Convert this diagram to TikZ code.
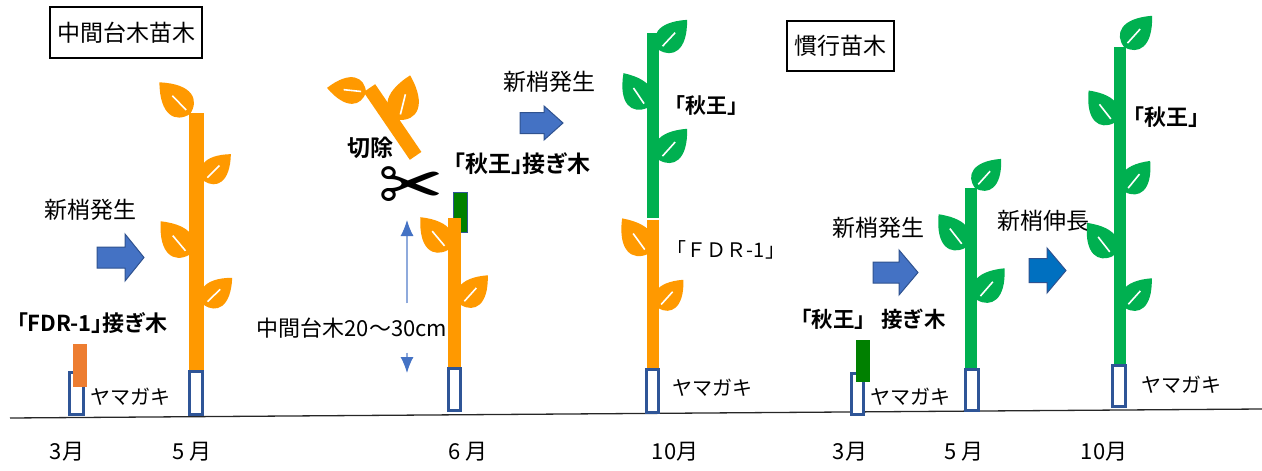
\documentclass[tikz,border=0pt]{standalone}
\usepackage{fontspec}
\setmainfont{Noto Sans CJK JP}[BoldFont={Noto Sans CJK JP Bold}]
\newfontfamily\jptight{Noto Sans CJK JP}[RawFeature=+palt, BoldFont={Noto Sans CJK JP Bold}]
\newfontfamily\symfont{DejaVu Sans}
\usepackage{tikz}
\usetikzlibrary{arrows.meta}

\definecolor{stemorange}{HTML}{FF9900}
\definecolor{scionorange}{HTML}{ED7D31}
\definecolor{stemgreen}{HTML}{00B050}
\definecolor{sciongreen}{HTML}{008000}
\definecolor{potblue}{HTML}{2F5597}
\definecolor{arrowfill}{HTML}{4472C4}
\definecolor{arrowline}{HTML}{2F528F}
\definecolor{arrowdeep}{HTML}{0070C0}
\definecolor{spanline}{HTML}{8FAADC}

% one leaf, base at the origin, tip along +x
\tikzset{
  leaf/.pic={
    \fill (0,0) .. controls (3,15) and (18,21) .. (40,0) .. controls (18,-21) and (3,-15) .. (0,0);
    \draw[white, line width=1.6pt] (5,0) -- (23,0);
  },
}

% block arrow: [colour]{left x}{centre y}{length}{head half}{body half}
\newcommand{\growarrow}[6][arrowfill]{%
  \filldraw[fill=#1, draw=arrowline, line width=1pt]
    (#2,#3-#6) -- (#2+#4-19,#3-#6) -- (#2+#4-19,#3-#5) -- (#2+#4,#3)
    -- (#2+#4-19,#3+#5) -- (#2+#4-19,#3+#6) -- (#2,#3+#6) -- cycle;}

\begin{document}
\begin{tikzpicture}[x=1pt, y=-1pt,
  tag/.style={inner sep=0pt, font=\fontsize{23}{26}\selectfont},
  boldtag/.style={inner sep=0pt, font=\fontsize{23}{26}\selectfont\bfseries},
  pottag/.style={inner sep=0pt, font=\fontsize{20}{24}\selectfont},
  month/.style={inner sep=0pt, font=\fontsize{22}{24}\selectfont},
  titlebox/.style={draw, line width=1.2pt, inner sep=0pt, font=\fontsize{23}{26}\selectfont},
  pot/.style={draw=potblue, line width=3.5pt, fill=white},
  spanarrow/.style={draw=spanline, line width=1.2pt, -{Latex[length=16pt,width=13pt,color=arrowfill]}}]
  \useasboundingbox (0,0) rectangle (1262,471);

  % ground
  \draw[line width=1.3pt, black!85] (10,418) -- (1262,409);

  % ===== interstock nursery tree =====
  \node[titlebox, minimum width=152pt, minimum height=51pt] (boxA) at (126,32.5) {中間台木苗木};

  % March: FDR-1 grafted on the rootstock
  \draw[pot] (69.5,372.5) rectangle (83.5,414.5);
  \fill[scionorange] (73,344) rectangle (87,387);
  \node[boldtag, font=\fontsize{22}{26}\selectfont\bfseries\jptight] (fdrGraft) at (92,323) {「FDR-1」接ぎ木};
  \node[pottag] (rootA) at (130,397) {ヤマガキ};
  \node[tag] (shootA) at (91,210) {新梢発生};
  \growarrow{97}{257.5}{47}{23.5}{10.5}

  % May
  \pic[color=stemorange, rotate=134, scale=1.1] at (190,114) {leaf};
  \pic[color=stemorange, rotate=45, scale=0.95] at (204,181) {leaf};
  \pic[color=stemorange, rotate=130, scale=1.1] at (189,255) {leaf};
  \pic[color=stemorange, rotate=44, scale=0.98] at (204,305) {leaf};
  \fill[stemorange] (189,113) rectangle (204,370);
  \draw[pot] (189.5,371.5) rectangle (202.5,414.5);

  % June: cut back and graft Shuuou
  \pic[color=stemorange, rotate=174, scale=0.98] at (366,92) {leaf};
  \pic[color=stemorange, rotate=76, scale=1.15] at (399,120) {leaf};
  \begin{scope}[shift={(392.5,122)}, rotate=-55.7]
    \fill[stemorange] (-41,-7) rectangle (41,7);
  \end{scope}
  \node[boldtag] (cutOff) at (370,148) {切除};
  \node[inner sep=0pt, font=\symfont\fontsize{78}{78}\selectfont] (scissors) at (411,190) {✂};
  \node[boldtag, font=\fontsize{23}{26}\selectfont\bfseries\jptight] (shuGraft) at (522,164) {「秋王」接ぎ木};

  \pic[color=stemorange, rotate=130, scale=1.07] at (448,250) {leaf};
  \pic[color=stemorange, rotate=48, scale=1.0] at (461,305) {leaf};
  \filldraw[fill=sciongreen, draw=potblue, line width=1pt] (453,192) rectangle (467,232);
  \fill[stemorange] (448,218) rectangle (461,368);
  \draw[pot] (448.5,368.5) rectangle (460.5,410.5);

  % interstock length
  \coordinate (spanTop) at (407,220);
  \coordinate (spanBot) at (407,373);
  \node[inner sep=0pt, minimum height=49pt, font=\fontsize{22}{26}\selectfont] (spanTxt) at (352,328) {中間台木20～30cm};
  \draw[spanarrow] (spanTxt.north -| spanTop) -- (spanTop);
  \draw[spanarrow] (spanTxt.south -| spanBot) -- (spanBot);

  \node[tag] (shootB) at (549,82) {新梢発生};
  \growarrow{520}{123}{43}{17}{10.5}

  % October
  \pic[color=stemgreen, rotate=47, scale=1.03] at (659,50) {leaf};
  \pic[color=stemgreen, rotate=124, scale=1.05] at (647,108) {leaf};
  \pic[color=stemgreen, rotate=48, scale=1.05] at (659,160) {leaf};
  \pic[color=stemorange, rotate=126, scale=1.1] at (648,254) {leaf};
  \pic[color=stemorange, rotate=48, scale=0.95] at (658,308) {leaf};
  \fill[stemgreen] (647,33) rectangle (659,218);
  \fill[stemorange] (647,220) rectangle (659,368);
  \draw[pot] (646.5,369.5) rectangle (658.5,412.5);
  \node[boldtag, font=\fontsize{21}{24}\selectfont\bfseries] (shuA) at (706,106) {「秋王」};
  \node[inner sep=0pt, font=\fontsize{20}{24}\selectfont] (fdrA) at (726,250) {「ＦＤＲ-1」};
  \node[pottag] (rootB) at (712,388) {ヤマガキ};

  % ===== conventional nursery tree =====
  \node[titlebox, minimum width=107pt, minimum height=50pt] (boxB) at (840.5,46) {慣行苗木};

  % March
  \draw[pot] (851.5,373.5) rectangle (863.5,414.5);
  \fill[sciongreen] (856,340) rectangle (870,382);
  \node[boldtag, font=\fontsize{21.5}{26}\selectfont\bfseries] (shuGraftB) at (868,319) {「秋王」 接ぎ木};
  \node[pottag] (rootC) at (910,397) {ヤマガキ};
  \node[tag] (shootC) at (878,228) {新梢発生};
  \growarrow{873}{272.5}{45}{22.5}{10.5}

  % May
  \pic[color=stemgreen, rotate=48, scale=0.98] at (975,188) {leaf};
  \pic[color=stemgreen, rotate=128, scale=1.07] at (965,248) {leaf};
  \pic[color=stemgreen, rotate=49, scale=1.05] at (977,300) {leaf};
  \fill[stemgreen] (965,188) rectangle (977,368);
  \draw[pot] (965.5,369.5) rectangle (978.5,410.5);

  \node[tag] (extendC) at (1043,221) {新梢伸長};
  \growarrow[arrowdeep]{1029}{270.5}{37}{22.5}{12}

  % October
  \pic[color=stemgreen, rotate=48, scale=1.05] at (1124,47) {leaf};
  \pic[color=stemgreen, rotate=128, scale=1.03] at (1114,123) {leaf};
  \pic[color=stemgreen, rotate=51, scale=1.0] at (1125,192) {leaf};
  \pic[color=stemgreen, rotate=128, scale=1.05] at (1113,256) {leaf};
  \pic[color=stemgreen, rotate=48, scale=1.0] at (1125,308) {leaf};
  \fill[stemgreen] (1114,47) rectangle (1126,365);
  \draw[pot] (1112.5,365.5) rectangle (1125.5,406.5);
  \node[boldtag, font=\fontsize{22}{26}\selectfont\bfseries] (shuB) at (1166,117) {「秋王」};
  \node[pottag] (rootD) at (1181,385) {ヤマガキ};

  % months
  \node[month] (m3a) at (67,452) {3月};
  \node[month] (m5a) at (192,452) {5 月};
  \node[month] (m6a) at (468,452) {6 月};
  \node[month] (m10a) at (675,452) {10月};
  \node[month] (m3b) at (850,452) {3月};
  \node[month] (m5b) at (964,452) {5 月};
  \node[month] (m10b) at (1104,452) {10月};
\end{tikzpicture}
\end{document}
